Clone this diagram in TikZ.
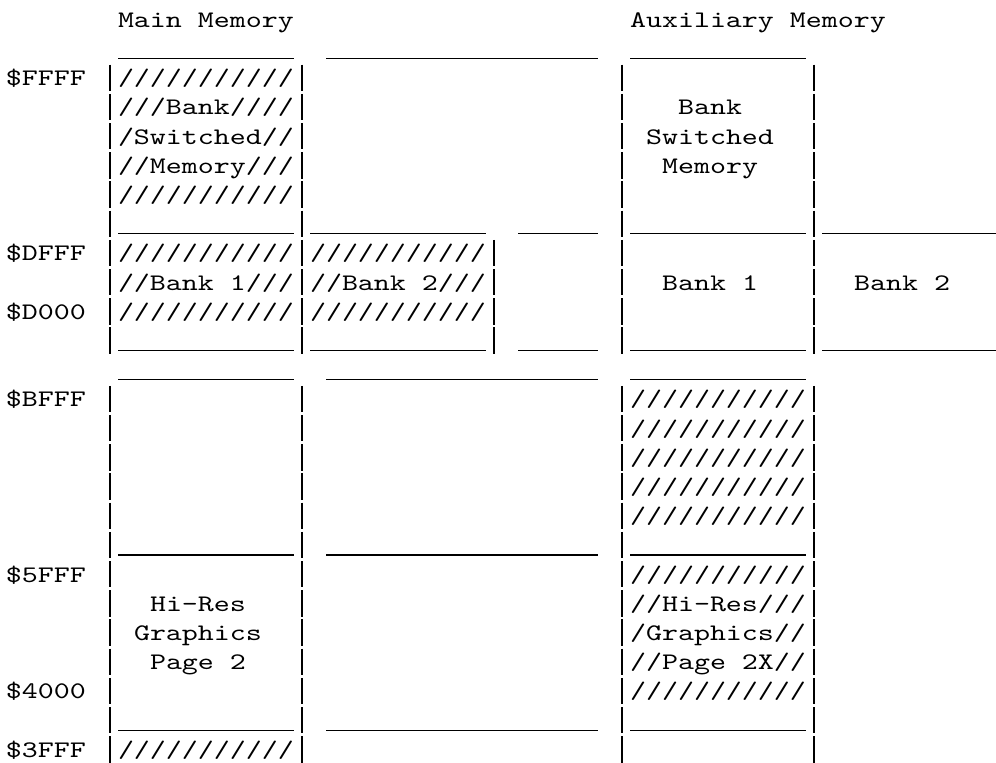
\documentclass[tikz,border=0pt]{standalone}
\usepackage{fontspec}
\usepackage{tikz}
\newfontfamily\asciifont{lmmono10-regular.otf}[FakeStretch=1.284]
\tikzset{
	memtext/.style={anchor=base west, inner sep=0pt, outer sep=0pt},
	wallline/.style={line width=0.9pt, line cap=butt},
}

\begin{document}
\begin{tikzpicture}[x=12pt, y=-21.9pt, font=\asciifont\fontsize{17.8pt}{21.9pt}\selectfont]
\useasboundingbox (-0.375,-0.935) rectangle (61.875,25.195);
% headings
\node[memtext] (mainhd) at (7,0) {Main Memory};
\node[memtext] (auxhd) at (39,0) {Auxiliary Memory};
% addresses
\node[memtext] (aFFFF) at (0,2) {\$FFFF};
\node[memtext] (aDFFF) at (0,8) {\$DFFF};
\node[memtext] (aD000) at (0,10) {\$D000};
\node[memtext] (aBFFF) at (0,13) {\$BFFF};
\node[memtext] (a5FFF) at (0,19) {\$5FFF};
\node[memtext] (a4000) at (0,23) {\$4000};
\node[memtext] (a3FFF) at (0,25) {\$3FFF};
% main memory
\node[memtext] (mbsA) at (7,2) {///////////};
\node[memtext] (mbsB) at (7,3) {///Bank////};
\node[memtext] (mbsC) at (7,4) {/Switched//};
\node[memtext] (mbsD) at (7,5) {//Memory///};
\node[memtext] (mbsE) at (7,6) {///////////};
\node[memtext] (mbk1A) at (7,8) {///////////};
\node[memtext] (mbk1B) at (7,9) {//Bank 1///};
\node[memtext] (mbk1C) at (7,10) {///////////};
\node[memtext] (mbk2A) at (19,8) {///////////};
\node[memtext] (mbk2B) at (19,9) {//Bank 2///};
\node[memtext] (mbk2C) at (19,10) {///////////};
\node[memtext] (mhrA) at (9,20) {Hi-Res};
\node[memtext] (mhrB) at (8,21) {Graphics};
\node[memtext] (mhrC) at (9,22) {Page 2};
\node[memtext] (mlow) at (7,25) {///////////};
% auxiliary memory
\node[memtext] (xbsA) at (42,3) {Bank};
\node[memtext] (xbsB) at (40,4) {Switched};
\node[memtext] (xbsC) at (41,5) {Memory};
\node[memtext] (xbk1) at (41,9) {Bank 1};
\node[memtext] (xbk2) at (53,9) {Bank 2};
\foreach \k in {13,...,17}
	\node[memtext] (xtop\k) at (39,\k) {///////////};
\node[memtext] (xhrA) at (39,19) {///////////};
\node[memtext] (xhrB) at (39,20) {//Hi-Res///};
\node[memtext] (xhrC) at (39,21) {/Graphics//};
\node[memtext] (xhrD) at (39,22) {//Page 2X//};
\node[memtext] (xhrE) at (39,23) {///////////};
% vertical bars, one piece per text row
\foreach \c/\a/\b in {6/2/11, 6/13/25, 18/2/11, 18/13/25, 30/8/11, 38/2/11, 38/13/25, 50/2/11, 50/13/25}
	\foreach \k in {\a,...,\b}
		\draw[wallline] (\c+0.5,\k-0.72) -- (\c+0.5,\k+0.18);
% underscore rows
\foreach \k/\p/\q in {1/7/17, 1/20/36, 1/39/49,
		7/7/17, 7/19/29, 7/32/36, 7/39/49, 7/51/61,
		11/7/17, 11/19/29, 11/32/36, 11/39/49, 11/51/61,
		12/7/17, 12/20/36, 12/39/49,
		18/7/17, 18/20/36, 18/39/49,
		24/7/17, 24/20/36, 24/39/49}
	\draw[wallline] (\p,\k+0.07) -- (\q+1,\k+0.07);
\end{tikzpicture}
\end{document}
